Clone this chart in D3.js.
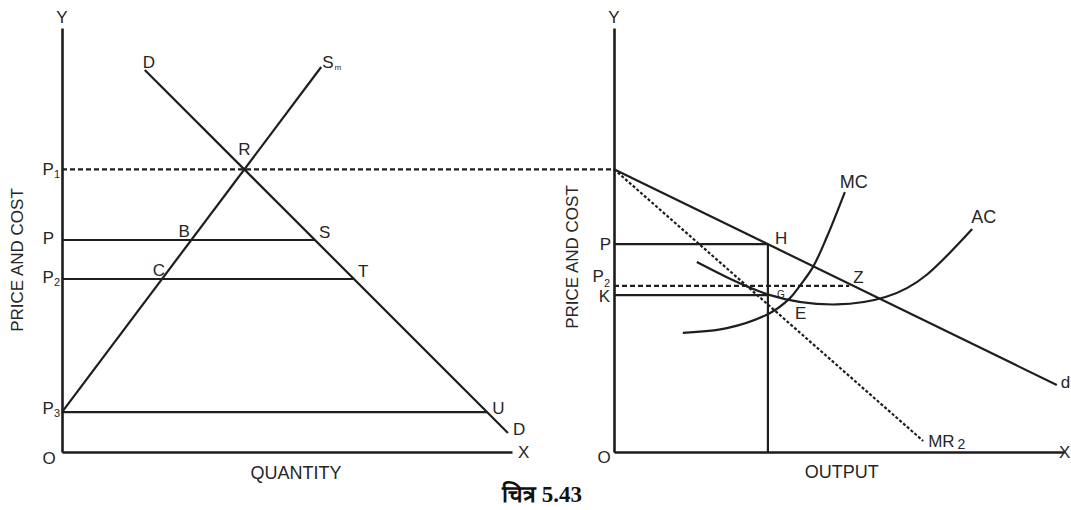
<!DOCTYPE html>
<html>
<head>
<meta charset="utf-8">
<script src="https://cdn.jsdelivr.net/npm/d3@7"></script>
<style>
    body { margin: 0; background: #fff; }
    text { font-family: 'Liberation Sans', Arial, sans-serif; fill: #262626; }
    .axis path { stroke: #1c1c1c; stroke-width: 2.6; }
    .curve { fill: none; stroke: #1e1e1e; stroke-width: 2.2; }
    .dashed { stroke-dasharray: 5, 3; }
    .dotted { stroke-dasharray: 3, 2; }
</style>
</head>
<body>
<div class="container"></div>
<script>
const WIDTH = 1071;
const HEIGHT = 510;

// market (left) panel, price/quantity units 0..100
var marketDemand = [[18.4, 90.1], [99.1, 4.5]];
var marketSupply = [[0, 9.4], [57.6, 90.8]];
var marketPrices = [50, 40.8, 9.4];
var marketPriceNames = [['P', ''], ['P', '2'], ['P', '3']];
var marketPointNames = [['B', 'S'], ['C', 'T'], ['', 'U']];

// firm (right) panel
var firmDemand = [[0, 66.7], [98.4, 15.8]];
var firmMR = [[0, 66.7], [68.7, 2.6]];
var mcCurve = [[15.3, 28.1], [25.1, 29.2], [34.7, 32.8], [39.1, 36.3], [41.3, 39.2],
    [44.2, 43.6], [47.3, 50.7], [51.3, 61.3]];
var acCurve = [[18.4, 44.8], [34.7, 37.0], [49.5, 34.8], [60.5, 36.6], [69.5, 41.8], [79.6, 52.6]];
var firmOutput = 34.2;
var firmP2 = 39.2;
var firmK = 37.0;

var yScale = d3.scaleLinear().domain([0, 100]).range([452, 28]);
var xLeft = d3.scaleLinear().domain([0, 100]).range([62, 512]);
var xRight = d3.scaleLinear().domain([0, 100]).range([614, 1064]);

var svg = d3.select('.container').append('svg')
    .attr('width', WIDTH)
    .attr('height', HEIGHT);

// value of a straight line (two points) at x, and x at a given y
var lineAt = function(seg, x) {
    var [[x0, y0], [x1, y1]] = seg;
    return y0 + (x - x0) * (y1 - y0) / (x1 - x0);
};
var lineX = function(seg, y) {
    var [[x0, y0], [x1, y1]] = seg;
    return x0 + (y - y0) * (x1 - x0) / (y1 - y0);
};

var label = function(x, y, main, sub, opts) {
    opts = opts || {};
    var t = svg.append('text')
        .attr('x', x)
        .attr('y', y)
        .attr('font-size', opts.size || 17)
        .attr('text-anchor', opts.anchor || 'start');
    t.append('tspan').text(main);
    if (sub) {
        t.append('tspan')
            .attr('font-size', opts.subSize || 11)
            .attr('dy', opts.subDy || 4)
            .attr('dx', opts.subDx || 0)
            .text(sub);
    }
    return t;
};

var segment = function(x1, y1, x2, y2, width, cls) {
    svg.append('line')
        .attr('class', 'curve ' + (cls || ''))
        .attr('x1', x1).attr('y1', y1)
        .attr('x2', x2).attr('y2', y2)
        .attr('stroke-width', width || 2.2);
};

var drawAxes = function(xScale, xLabelX) {
    svg.append('g')
        .attr('class', 'axis')
        .attr('transform', `translate(${xScale(0)},0)`)
        .call(d3.axisLeft(yScale).tickValues([]).tickSizeOuter(0));
    svg.append('g')
        .attr('class', 'axis')
        .attr('transform', `translate(0,${yScale(0)})`)
        .call(d3.axisBottom(xScale).tickValues([]).tickSizeOuter(0));
    label(xScale(0), 23, 'Y', '', { anchor: 'middle' });
    label(xLabelX, yScale(0) + 6, 'X');
};

// ---------- left panel ----------
drawAxes(xLeft, xLeft(100) + 6);
label(xLeft(0) - 13, yScale(0) + 12, 'O', '', { anchor: 'middle' });

var segLine = d3.line().x((d) => xLeft(d[0])).y((d) => yScale(d[1]));
svg.append('path').attr('class', 'curve').attr('d', segLine(marketDemand));
svg.append('path').attr('class', 'curve').attr('d', segLine(marketSupply));

// R = where supply meets demand, gives P1
var sSlope = (marketSupply[1][1] - marketSupply[0][1]) / (marketSupply[1][0] - marketSupply[0][0]);
var dSlope = (marketDemand[1][1] - marketDemand[0][1]) / (marketDemand[1][0] - marketDemand[0][0]);
var rx = (marketDemand[0][1] - dSlope * marketDemand[0][0] - marketSupply[0][1]) / (sSlope - dSlope);
var p1 = lineAt(marketSupply, rx);

segment(xLeft(0), yScale(p1), xRight(0), yScale(p1), 2.2, 'dashed');

marketPrices.forEach(function(p, i) {
    var xs = lineX(marketSupply, p);
    var xd = lineX(marketDemand, p);
    segment(xLeft(0), yScale(p), xLeft(xd), yScale(p), i == 0 ? 3.4 : 2.2);
    var nm = marketPriceNames[i];
    label(xLeft(0) - (nm[1] ? 2 : 8), yScale(p) + (i == 2 ? 2 : 4), nm[0], nm[1],
        { anchor: 'end', subDy: 3 });
    var pts = marketPointNames[i];
    if (pts[0]) label(xLeft(xs) - (i == 0 ? 7 : 3), yScale(p) - 3, pts[0], '', { anchor: 'middle' });
    label(xLeft(xd) + (i == 2 ? 5 : 4), yScale(p) - (i == 2 ? -2 : 2), pts[1]);
});
label(xLeft(0) - 2, yScale(p1) + 6, 'P', '1', { anchor: 'end', subDy: 3 });
label(xLeft(rx), yScale(p1) - 14, 'R', '', { anchor: 'middle' });
label(xLeft(marketDemand[0][0]) + 4, yScale(marketDemand[0][1]) - 2, 'D', '', { anchor: 'middle' });
label(xLeft(marketDemand[1][0]) + 5, yScale(marketDemand[1][1]) + 2, 'D');
label(xLeft(marketSupply[1][0]) + 1, yScale(marketSupply[1][1]) + 1, 'S', 'm',
    { subSize: 8, subDy: 2, subDx: 1 });

label(xLeft(52), 479, 'QUANTITY', '', { anchor: 'middle', size: 18 });
label(0, 0, 'PRICE AND COST', '', { anchor: 'middle', size: 17 })
    .attr('transform', 'translate(23,260) rotate(-90)');

// ---------- right panel ----------
drawAxes(xRight, 1059);
label(xRight(0) - 10, yScale(0) + 11, 'O', '', { anchor: 'middle' });

var firmLine = d3.line().x((d) => xRight(d[0])).y((d) => yScale(d[1]));
var mcLine = d3.line().x((d) => xRight(d[0])).y((d) => yScale(d[1])).curve(d3.curveCatmullRom);
var acLine = d3.line().x((d) => xRight(d[0])).y((d) => yScale(d[1])).curve(d3.curveNatural);

svg.append('path').attr('class', 'curve').attr('d', firmLine(firmDemand));
svg.append('path').attr('class', 'curve dotted').attr('d', firmLine(firmMR));
svg.append('path').attr('class', 'curve').attr('d', mcLine(mcCurve));
svg.append('path').attr('class', 'curve').attr('d', acLine(acCurve));

var firmP = lineAt(firmDemand, firmOutput);
var zx = lineX(firmDemand, firmP2);
segment(xRight(0), yScale(firmP), xRight(firmOutput), yScale(firmP));
segment(xRight(firmOutput), yScale(firmP), xRight(firmOutput), yScale(0));
segment(xRight(0), yScale(firmP2), xRight(zx) - 4, yScale(firmP2), 2.6, 'dashed');
segment(xRight(0), yScale(firmK), xRight(firmOutput), yScale(firmK));

label(xRight(0) - 3, yScale(firmP) + 6, 'P', '', { anchor: 'end' });
label(xRight(0) - 4, yScale(firmP2) - 4, 'P', '2', { anchor: 'end', subDy: 5 });
label(xRight(0) - 4, yScale(firmK) + 7, 'K', '', { anchor: 'end' });
label(xRight(firmOutput) + 7, yScale(firmP), 'H');
label(xRight(zx), yScale(firmP2) - 3, 'Z');
label(xRight(firmOutput) + 9, yScale(firmK) + 3, 'G', '', { size: 10 });
var mrQ = lineAt(firmMR, firmOutput);
label(xRight(firmOutput) + 27, yScale(mrQ) + 15, 'E');
label(xRight(mcCurve[mcCurve.length - 1][0]) - 5, yScale(mcCurve[mcCurve.length - 1][1]) - 4, 'MC', '', { size: 18 });
label(xRight(acCurve[acCurve.length - 1][0]) - 1, yScale(acCurve[acCurve.length - 1][1]) - 6, 'AC', '', { size: 18 });
label(xRight(firmDemand[1][0]) + 4, yScale(firmDemand[1][1]) + 3, 'd');
label(xRight(firmMR[1][0]) + 5, yScale(firmMR[1][1]) + 6, 'MR', '2',
    { subSize: 14, subDy: 2, subDx: 3 });

label(xRight(50.6), 478, 'OUTPUT', '', { anchor: 'middle', size: 18 });
label(0, 0, 'PRICE AND COST', '', { anchor: 'middle', size: 17 })
    .attr('transform', 'translate(578,257) rotate(-90)');

// caption
svg.append('text')
    .attr('x', 542)
    .attr('y', 502)
    .attr('text-anchor', 'middle')
    .attr('font-size', 23)
    .attr('font-weight', 'bold')
    .style('font-family', "'Liberation Serif', 'Times New Roman', serif")
    .style('fill', '#111')
    .text('चित्र 5.43');
</script>
</body>
</html>
